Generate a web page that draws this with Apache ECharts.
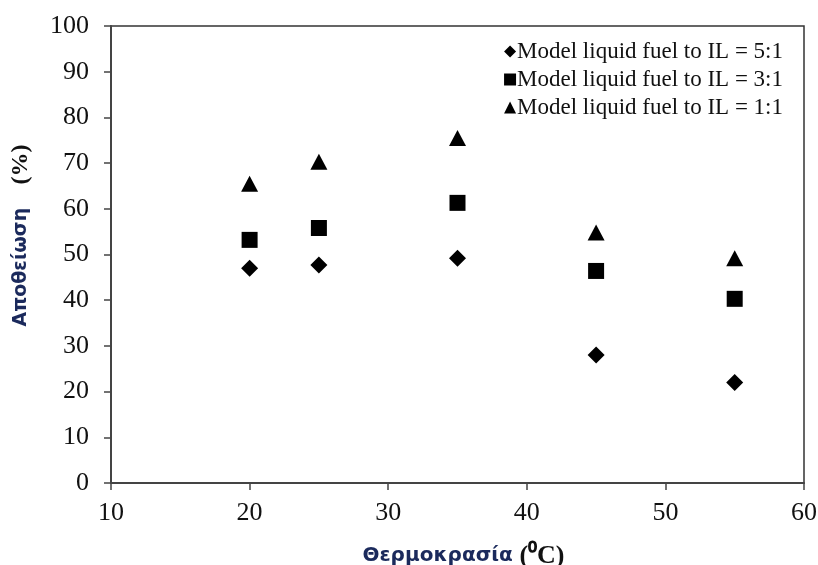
<!DOCTYPE html>
<html>
<head>
<meta charset="utf-8">
<script src="https://cdn.jsdelivr.net/npm/echarts@6/dist/echarts.min.js"></script>
<style>
  html, body { margin: 0; padding: 0; background: #fff; }
  #chart { width: 818px; height: 565px; }
</style>
</head>
<body>
<div id="chart"></div>
<script>
// temperature (oC)
var temps = [20, 25, 35, 45, 55];
// desulfurization (%) per fuel:IL ratio
var ratio51 = [47, 47.7, 49.2, 28, 22];
var ratio31 = [53.2, 55.8, 61.3, 46.4, 40.3];
var ratio11 = [65.5, 70.3, 75.5, 54.8, 49.2];
var seriesNames = [
    'Model liquid fuel to IL = 5:1',
    'Model liquid fuel to IL = 3:1',
    'Model liquid fuel to IL = 1:1'
];

function pairs(ys) {
    var out = [];
    for (var i = 0; i < temps.length; i++) {
        out.push([temps[i], ys[i]]);
    }
    return out;
}

var serif = '"Liberation Serif", "Times New Roman", serif';
var navy = '#1b2a5c';

var chart = echarts.init(document.getElementById('chart'));
var option = {
    animation: false,
    backgroundColor: '#fff',
    grid: {
        left: 111, right: 14, top: 26, bottom: 82,
        outerBoundsMode: 'none',
        containLabel: false,
        show: true,
        borderColor: '#333',
        borderWidth: 1.5
    },
    legend: {
        orient: 'vertical',
        right: 30,
        top: 35,
        itemWidth: 12,
        itemHeight: 12,
        itemGap: 5,
        textStyle: { fontFamily: serif, fontSize: 23, color: '#111', padding: [0, 0, 0, -4], lineHeight: 22 },
        data: seriesNames
    },
    xAxis: {
        type: 'value',
        min: 10, max: 60, interval: 10,
        splitLine: { show: false },
        axisLine: { lineStyle: { color: '#444', width: 2 } },
        axisTick: { length: 7, lineStyle: { color: '#444', width: 1.5 } },
        axisLabel: { fontFamily: serif, fontSize: 26, color: '#111', margin: 17 },
        name: '{a|Θερμοκρασία}  {b|(⁰C)}',
        nameLocation: 'middle',
        nameGap: 60,
        nameTextStyle: {
            padding: [0, 0, 0, 12],
            rich: {
                a: { fontFamily: '"DejaVu Sans", sans-serif', fontSize: 20, color: navy, fontWeight: 'bold' },
                b: { fontFamily: serif, fontSize: 26, color: '#111', fontWeight: 'bold' }
            }
        }
    },
    yAxis: {
        type: 'value',
        min: 0, max: 100, interval: 10,
        splitLine: { show: false },
        axisLine: { lineStyle: { color: '#444', width: 2 } },
        axisTick: { length: 7, lineStyle: { color: '#444', width: 1.5 } },
        axisLabel: { fontFamily: serif, fontSize: 26, color: '#111', margin: 22 },
        name: '{a|Αποθείωση}       {b|(%)}',
        nameLocation: 'middle',
        nameGap: 78,
        nameRotate: 90,
        nameTextStyle: {
            padding: [0, 0, 0, 38],
            rich: {
                a: { fontFamily: '"DejaVu Sans", sans-serif', fontSize: 19, color: navy, fontWeight: 'bold' },
                b: { fontFamily: serif, fontSize: 24, color: '#111', fontWeight: 'bold' }
            }
        }
    },
    series: [{
        name: seriesNames[0],
        type: 'scatter',
        symbol: 'diamond',
        symbolSize: [17, 17],
        itemStyle: { color: '#000', opacity: 1 },
        data: pairs(ratio51)
    }, {
        name: seriesNames[1],
        type: 'scatter',
        symbol: 'rect',
        symbolSize: 16,
        itemStyle: { color: '#000', opacity: 1 },
        data: pairs(ratio31)
    }, {
        name: seriesNames[2],
        type: 'scatter',
        symbol: 'triangle',
        symbolSize: [17, 16],
        itemStyle: { color: '#000', opacity: 1 },
        data: pairs(ratio11)
    }]
};
chart.setOption(option);
</script>
</body>
</html>
